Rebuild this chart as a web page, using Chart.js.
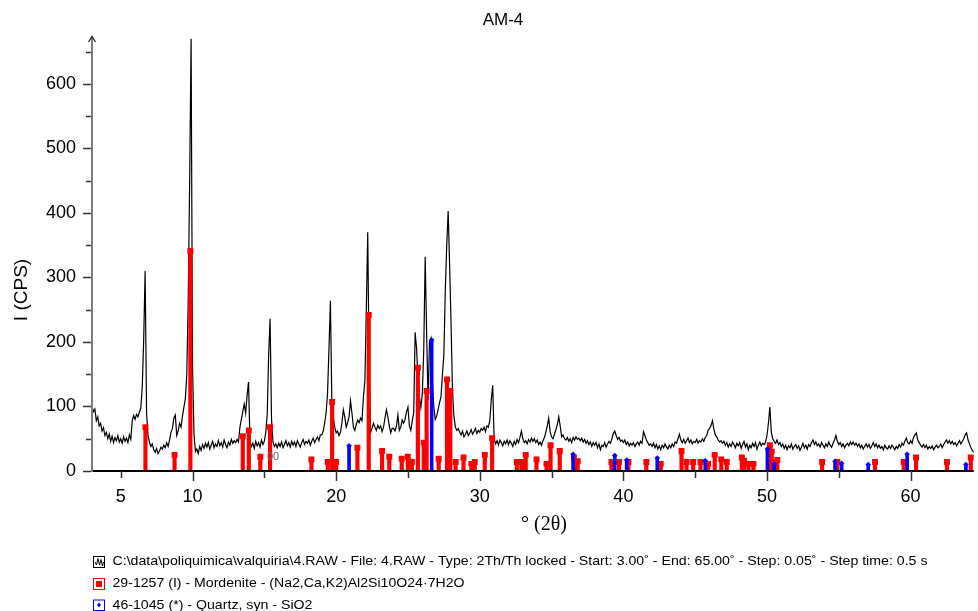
<!DOCTYPE html>
<html>
<head>
<meta charset="utf-8">
<script src="https://cdn.jsdelivr.net/npm/chart.js@4/dist/chart.umd.min.js"></script>
<style>
  html, body { margin: 0; padding: 0; background: #fff; }
  #wrap { position: relative; width: 978px; height: 611px; }
</style>
</head>
<body>
<div id="wrap"><canvas id="xrd" width="978" height="611"></canvas></div>
<script>
// Scan settings: 2θ start and step (degrees)
const scanStart = 3.0;
const scanStep = 0.1;

// Measured intensity (CPS), one row per degree of 2θ
const intensity = [
  100, 92, 96, 78, 84, 70, 74, 62, 67, 55,
  60, 50, 57, 46, 54, 44, 52, 47, 55, 45,
  50, 43, 53, 46, 51, 44, 56, 49, 78, 86,
  80, 88, 84, 91, 98, 130, 205, 310, 90, 55,
  45, 38, 42, 33, 29, 35, 27, 31, 37, 34,
  40, 36, 44, 38, 48, 60, 66, 82, 87, 55,
  62, 74, 68, 85, 99, 112, 150, 265, 450, 670,
  160, 58, 30, 34, 27, 38, 32, 41, 35, 43,
  37, 44, 34, 40, 46, 36, 42, 38, 47, 39,
  44, 37, 48, 41, 36, 45, 40, 49, 43, 47,
  44, 49, 45, 68, 80, 92, 104, 90, 118, 138,
  45, 38, 43, 35, 46, 39, 44, 37, 48, 41,
  46, 60, 88, 180, 236, 80, 45, 38, 42, 36,
  43, 38, 45, 36, 41, 47, 39, 44, 37, 46,
  40, 45, 38, 47, 42, 37, 44, 49, 41, 46,
  43, 48, 40, 46, 51, 44, 49, 53, 47, 56,
  56, 62, 74, 90, 120, 190, 264, 108, 84, 68,
  59, 62, 55, 60, 74, 95, 84, 68, 75, 84,
  109, 90, 68, 63, 72, 79, 75, 82, 78, 115,
  140, 250, 370, 150, 60, 66, 74, 68, 63, 71,
  66, 70, 61, 68, 82, 95, 84, 70, 59, 66,
  66, 62, 70, 87, 63, 68, 79, 74, 80, 92,
  99, 70, 63, 78, 90, 215, 190, 140, 115, 98,
  120, 188, 332, 214, 110, 200, 206, 140, 100, 80,
  85, 95, 106, 115, 150, 180, 280, 350, 403, 320,
  230, 125, 85, 68, 63, 66, 60, 56, 62, 53,
  57, 62, 55, 59, 64, 57, 61, 66, 58, 63,
  60, 66, 63, 68, 61, 70, 68, 78, 110, 133,
  50, 42, 47, 40, 48, 44, 39, 46, 42, 48,
  41, 47, 43, 38, 46, 41, 49, 44, 52, 62,
  50, 44, 47, 42, 49, 45, 51, 46, 50, 44,
  48, 41, 45, 40, 47, 52, 60, 70, 82, 61,
  53, 50, 57, 64, 72, 84, 70, 53, 56, 50,
  48, 52, 46, 50, 44, 52, 48, 53, 49, 51,
  47, 51, 45, 49, 43, 47, 41, 45, 38, 44,
  40, 44, 36, 42, 33, 40, 38, 44, 37, 42,
  46, 43, 50, 58, 62, 55, 49, 52, 46, 48,
  44, 48, 41, 45, 39, 43, 40, 44, 38, 42,
  45, 40, 46, 43, 61, 55, 48, 44, 40, 42,
  38, 43, 36, 41, 34, 39, 33, 40, 36, 42,
  37, 34, 40, 36, 42, 38, 45, 43, 50, 57,
  48, 44, 49, 43, 47, 51, 44, 48, 42, 46,
  44, 49, 43, 47, 45, 50, 46, 52, 55, 63,
  66, 70, 78, 65, 56, 53, 48, 45, 47, 43,
  46, 40, 44, 37, 42, 38, 45, 41, 36, 43,
  39, 44, 35, 41, 46, 37, 42, 33, 40, 36,
  43, 38, 44, 34, 40, 45, 39, 43, 41, 45,
  55, 74, 99, 60, 50, 46, 43, 48, 41, 44,
  38, 42, 35, 40, 33, 39, 36, 42, 34, 38,
  41, 35, 39, 32, 37, 43, 36, 40, 34, 41,
  38, 44, 48, 41, 45, 39, 42, 37, 44, 40,
  36, 42, 38, 45, 40, 37, 43, 48, 55, 46,
  41, 44, 38, 42, 36, 40, 43, 39, 45, 41,
  45, 40, 43, 38, 42, 36, 40, 34, 38, 42,
  37, 41, 35, 39, 44, 38, 42, 36, 40, 35,
  38, 33, 40, 36, 34, 39, 35, 40, 37, 33,
  38, 35, 41, 37, 43, 40, 46, 51, 44, 42,
  47, 43, 52, 56, 59, 48, 44, 40, 37, 41,
  36, 40, 34, 38, 35, 39, 33, 37, 40, 36,
  38, 42, 36, 41, 45, 48, 43, 47, 42, 46,
  41, 44, 39, 43, 47, 42, 46, 50, 56, 59,
  48, 42, 36, 32, 29, 33
];

// Reference pattern 29-1257 Mordenite: 2θ positions and stick heights
const mordenitePos = [
  6.72, 8.75, 9.85, 13.50, 13.92, 14.72, 15.40, 18.28, 19.42, 19.72, 19.84, 20.00,
  21.48, 22.27, 23.20, 23.70, 24.57, 24.99, 25.27, 25.69, 26.10, 26.30, 27.14, 27.72,
  27.95, 28.32, 28.87, 29.42, 29.65, 30.35, 30.86, 32.58, 32.90, 33.08, 33.20, 33.95,
  34.65, 34.93, 35.57, 36.56, 36.82, 39.17, 39.70, 40.35, 41.60, 42.60, 44.05, 44.40,
  44.86, 45.37, 45.90, 46.36, 46.82, 47.20, 48.25, 48.41, 48.71, 49.06, 50.20, 50.33,
  50.45, 50.72, 53.84, 54.90, 57.52, 59.52, 60.38, 62.53, 64.19
];
const mordeniteInt = [
  68, 25, 341, 54, 63, 22, 68, 18, 14, 107, 14, 14,
  36, 242, 31, 22, 19, 22, 14, 160, 44, 124, 19, 142,
  124, 14, 21, 11, 14, 25, 51, 14, 14, 14, 25, 18,
  11, 40, 31, 21, 15, 14, 14, 14, 14, 11, 31, 14,
  14, 14, 11, 25, 18, 14, 21, 16, 11, 11, 40, 30,
  14, 17, 14, 14, 14, 14, 21, 14, 21
];

// Reference pattern 46-1045 Quartz: 2θ positions and stick heights
const quartzPos = [20.90, 26.65, 36.50, 39.40, 40.23, 42.36, 45.70, 50.03, 50.50, 54.74, 55.20, 57.05, 59.76, 63.85];
const quartzInt = [39, 203, 26, 24, 17, 20, 16, 34, 11, 15, 12, 10, 26, 10];

// Axis ticks
const xTickValues = [5, 10, 15, 20, 25, 30, 35, 40, 45, 50, 55, 60];
const xTickLabels = [5, 10, 20, 30, 40, 50, 60];
const yTickValues = [0, 50, 100, 150, 200, 250, 300, 350, 400, 450, 500, 550, 600, 650];

const chartTitle = 'AM-4';
const xTitle = '\u00B0 (2\u03B8)';
const yTitle = 'I (CPS)';
const legendItems = [
  'C:\\data\\poliquimica\\valquiria\\4.RAW - File: 4.RAW - Type: 2Th/Th locked - Start: 3.00\u02DA - End: 65.00\u02DA - Step: 0.05\u02DA - Step time: 0.5 s',
  '29-1257 (I) - Mordenite - (Na2,Ca,K2)Al2Si10O24\u00B77H2O',
  '46-1045 (*) - Quartz, syn - SiO2'
];
const strayLabel = '00';

// Build point lists for the library
const patternPoints = intensity.map((v, i) => ({ x: +(scanStart + i * scanStep).toFixed(2), y: v }));
const mordPoints = mordenitePos.map((p, i) => ({ x: p, y: mordeniteInt[i] }));
const quartzPoints = quartzPos.map((p, i) => ({ x: p, y: quartzInt[i] }));

const SANS = '"Liberation Sans", Arial, Helvetica, sans-serif';
const SERIF = '"Liberation Serif", "Times New Roman", serif';

// Axes, tick marks, titles and legend block
const decorations = {
  id: 'decorations',
  afterDraw(chart) {
    const { ctx, chartArea: a, scales: { x, y } } = chart;
    ctx.save();
    const seg = (x1, y1, x2, y2) => { ctx.beginPath(); ctx.moveTo(x1, y1); ctx.lineTo(x2, y2); ctx.stroke(); };

    // x axis line and ticks
    ctx.strokeStyle = '#000';
    ctx.lineWidth = 2;
    seg(a.left, a.bottom, a.right, a.bottom);
    ctx.lineWidth = 1.5;
    ctx.strokeStyle = '#333';
    xTickValues.forEach(v => {
      const px = Math.round(x.getPixelForValue(v)) + 0.5;
      const len = v % 10 === 0 ? 10 : 7;
      seg(px, a.bottom, px, a.bottom + len);
    });

    // y axis line with arrow, ticks
    ctx.strokeStyle = '#7c7c7c';
    ctx.lineWidth = 2;
    seg(a.left, a.bottom + 1, a.left, a.top - 1);
    ctx.lineWidth = 1.3;
    ctx.strokeStyle = '#222';
    ctx.beginPath();
    ctx.moveTo(a.left - 3.5, a.top + 4);
    ctx.lineTo(a.left, a.top - 1.5);
    ctx.lineTo(a.left + 3.5, a.top + 4);
    ctx.stroke();
    ctx.lineWidth = 1.5;
    ctx.strokeStyle = '#333';
    yTickValues.forEach(v => {
      const py = Math.round(y.getPixelForValue(v)) + 0.5;
      const len = v % 100 === 0 ? 9 : 6;
      seg(a.left - len, py, a.left - 1, py);
    });

    // titles
    ctx.fillStyle = '#000';
    ctx.textAlign = 'center';
    ctx.textBaseline = 'middle';
    ctx.font = '17px ' + SANS;
    ctx.fillText(chartTitle, 503, 20);
    ctx.font = '20px ' + SERIF;
    ctx.fillText(xTitle, 544, 525);
    ctx.save();
    ctx.translate(22, 290);
    ctx.rotate(-Math.PI / 2);
    ctx.font = '19px ' + SANS;
    ctx.fillText(yTitle, 0, 0);
    ctx.restore();

    // small label near the 15.4° stick
    ctx.fillStyle = '#666';
    ctx.font = '11px ' + SANS;
    ctx.textAlign = 'left';
    ctx.fillText(strayLabel, x.getPixelForValue(15.18), y.getPixelForValue(21));

    // legend block
    const rows = [561.5, 583.5, 605.5];
    const widths = [815, 352, 200];
    ctx.font = '13px ' + SANS;
    ctx.fillStyle = '#000';
    legendItems.forEach((txt, i) => {
      const cy = rows[i];
      ctx.save();
      const w = ctx.measureText(txt).width;
      ctx.translate(112.5, cy);
      ctx.scale(widths[i] / w, 1);
      ctx.textAlign = 'left';
      ctx.textBaseline = 'middle';
      ctx.fillText(txt, 0, 0);
      ctx.restore();
    });
    // legend icons
    ctx.lineWidth = 1;
    // scan icon
    ctx.strokeStyle = '#000';
    ctx.strokeRect(93.5, 556.5, 11, 11);
    ctx.beginPath();
    ctx.moveTo(95, 562); ctx.lineTo(96.5, 565); ctx.lineTo(98, 558.5); ctx.lineTo(99.5, 565);
    ctx.lineTo(101, 559.5); ctx.lineTo(102.5, 566); ctx.lineTo(103.5, 562);
    ctx.stroke();
    // mordenite icon
    ctx.strokeStyle = '#ff0000';
    ctx.strokeRect(93.5, 578.5, 11, 11);
    ctx.fillStyle = '#ff0000';
    ctx.fillRect(96, 581, 6, 6);
    // quartz icon
    ctx.strokeStyle = '#0000ff';
    ctx.strokeRect(93.5, 600, 11, 10.5);
    ctx.fillStyle = '#0000ff';
    ctx.beginPath();
    ctx.moveTo(99, 602.5); ctx.lineTo(101, 605); ctx.lineTo(99, 607.5); ctx.lineTo(97, 605);
    ctx.closePath();
    ctx.fill();

    ctx.restore();
  }
};

new Chart(document.getElementById('xrd'), {
  type: 'bar',
  data: {
    datasets: [
      {
        type: 'scatter',
        label: 'Quartz markers',
        data: quartzPoints,
        pointStyle: 'rectRot',
        pointRadius: 2.8,
        pointBackgroundColor: '#0000ff',
        pointBorderWidth: 0,
        order: 0
      },
      {
        type: 'bar',
        label: 'Quartz',
        data: quartzPoints,
        backgroundColor: '#0000ff',
        barThickness: 3,
        grouped: false,
        order: 1
      },
      {
        type: 'scatter',
        label: 'Mordenite markers',
        data: mordPoints,
        pointStyle: 'rect',
        pointRadius: 4.2,
        pointBackgroundColor: '#ff0000',
        pointBorderWidth: 0,
        order: 2
      },
      {
        type: 'bar',
        label: 'Mordenite',
        data: mordPoints,
        backgroundColor: '#ff0000',
        barThickness: 3.5,
        grouped: false,
        order: 3
      },
      {
        type: 'line',
        label: '4.RAW',
        data: patternPoints,
        borderColor: '#000',
        borderWidth: 1.2,
        pointRadius: 0,
        tension: 0,
        fill: false,
        order: 4
      }
    ]
  },
  options: {
    responsive: false,
    animation: false,
    events: [],
    layout: { padding: { top: 38, right: 0, left: 0, bottom: 0 } },
    plugins: { legend: { display: false }, tooltip: { enabled: false }, title: { display: false } },
    scales: {
      x: {
        type: 'linear',
        min: 3,
        max: 64.4,
        offset: false,
        grid: { display: false, drawTicks: false, offset: false },
        border: { display: false },
        afterBuildTicks: s => { s.ticks = xTickValues.map(v => ({ value: v })); },
        afterFit: s => { s.height = 140; },
        ticks: {
          padding: 15,
          autoSkip: false,
          maxRotation: 0,
          color: '#000',
          font: { family: SANS, size: 18 },
          callback: v => (xTickLabels.includes(v) ? String(v) : '')
        }
      },
      y: {
        type: 'linear',
        min: 0,
        max: 671.3,
        grid: { display: false, drawTicks: false },
        border: { display: false },
        afterBuildTicks: s => { s.ticks = yTickValues.map(v => ({ value: v })); },
        afterFit: s => { s.width = 92; },
        ticks: {
          padding: 16,
          autoSkip: false,
          color: '#000',
          font: { family: SANS, size: 18 },
          callback: v => (v % 100 === 0 ? String(v) : '')
        }
      }
    }
  },
  plugins: [decorations]
});
</script>
</body>
</html>
